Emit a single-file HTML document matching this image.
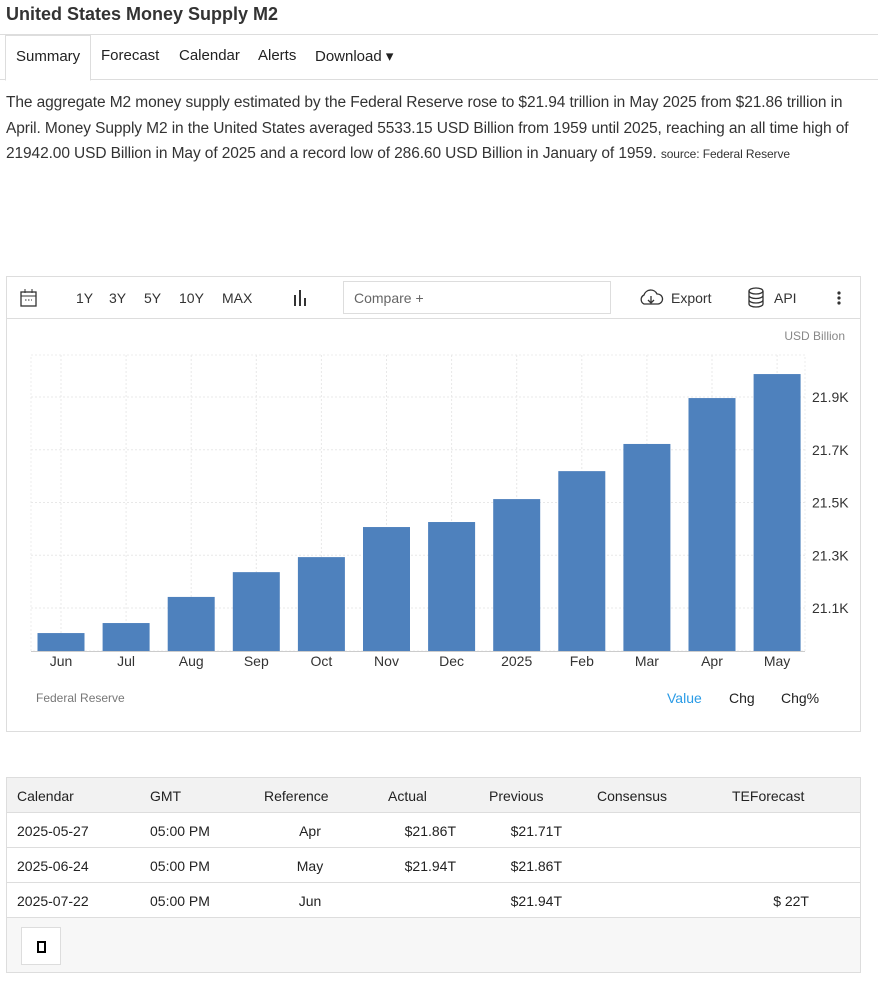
<!DOCTYPE html>
<html><head><meta charset="utf-8"><style>
body{margin:0;width:878px;height:987px;background:#fff;font-family:"Liberation Sans",sans-serif;color:#333;position:relative;overflow:hidden}
.abs{position:absolute}
h1{position:absolute;left:6px;top:4px;margin:0;font-size:18px;font-weight:bold;color:#333}
.tabs{position:absolute;left:0;top:34px;width:878px;height:44px;border-top:1px solid #ddd;border-bottom:1px solid #ddd}
.tab{position:absolute;top:12px;font-size:15px;color:#222}
p{position:absolute;left:6px;top:90px;width:872px;margin:0;font-size:15.5px;line-height:25.5px;color:#333;letter-spacing:-0.1px}
.box{position:absolute;border:1px solid #ddd}
.tb{position:absolute;top:13px;font-size:14px;color:#333}
.hd{position:absolute;top:10px;font-size:14px;color:#222}
</style></head><body>
<h1>United States Money Supply M2</h1>
<div class="tabs">
<div class="abs" style="left:5px;top:0;width:84px;height:44px;border:1px solid #ddd;border-bottom:1px solid #fff;background:#fff"><span class="tab" style="left:10px;top:12px">Summary</span></div>
<span class="tab" style="left:101px">Forecast</span>
<span class="tab" style="left:179px">Calendar</span>
<span class="tab" style="left:258px">Alerts</span>
<span class="tab" style="left:315px">Download ▾</span>
</div>
<p>The aggregate M2 money supply estimated by the Federal Reserve rose to $21.94 trillion in May 2025 from $21.86 trillion in April. Money Supply M2 in the United States averaged 5533.15 USD Billion from 1959 until 2025, reaching an all time high of 21942.00 USD Billion in May of 2025 and a record low of 286.60 USD Billion in January of 1959. <span style="font-size:12px">source: Federal Reserve</span></p>

<div class="box" style="left:6px;top:276px;width:853px;height:454px">
<div class="abs" style="left:0;top:0;width:853px;height:41px;border-bottom:1px solid #ddd">
<svg class="abs" style="left:12px;top:11px" width="20" height="20"><rect x="2" y="4" width="15" height="14" fill="none" stroke="#333" stroke-width="1.3"/><line x1="2" y1="8" x2="17" y2="8" stroke="#333"/><line x1="6" y1="1" x2="6" y2="5" stroke="#333"/><line x1="13" y1="1" x2="13" y2="5" stroke="#333"/><line x1="6" y1="12" x2="13" y2="12" stroke="#333" stroke-dasharray="1.5 1.5"/></svg>
<span class="tb" style="left:69px">1Y</span>
<span class="tb" style="left:102px">3Y</span>
<span class="tb" style="left:137px">5Y</span>
<span class="tb" style="left:172px">10Y</span>
<span class="tb" style="left:215px">MAX</span>
<svg class="abs" style="left:285px;top:12px" width="18" height="18"><rect x="2" y="6" width="2" height="11" fill="#333"/><rect x="7" y="1" width="2" height="16" fill="#333"/><rect x="12" y="9" width="2" height="8" fill="#333"/></svg>
<div class="abs" style="left:336px;top:4px;width:266px;height:31px;border:1px solid #ddd"><span class="abs" style="left:10px;top:8px;font-size:14px;color:#666">Compare +</span></div>
<svg class="abs" style="left:631px;top:11px" width="26" height="20"><path d="M6 16 A5 5 0 0 1 6 7 A7 7 0 0 1 19 6 A5 5 0 0 1 20 16 Z" fill="none" stroke="#333" stroke-width="1.3"/><line x1="13" y1="8" x2="13" y2="14" stroke="#333" stroke-width="1.3"/><path d="M10 12 L13 15 L16 12" fill="none" stroke="#333" stroke-width="1.3"/></svg>
<span class="tb" style="left:664px">Export</span>
<svg class="abs" style="left:740px;top:10px" width="20" height="22"><ellipse cx="9" cy="4" rx="7" ry="3" fill="none" stroke="#333" stroke-width="1.3"/><path d="M2 4 V17 A7 3 0 0 0 16 17 V4 M2 8.5 A7 3 0 0 0 16 8.5 M2 13 A7 3 0 0 0 16 13" fill="none" stroke="#333" stroke-width="1.3"/></svg>
<span class="tb" style="left:767px">API</span>
<svg class="abs" style="left:828px;top:13px" width="8" height="16"><circle cx="4" cy="3" r="1.6" fill="#333"/><circle cx="4" cy="8" r="1.6" fill="#333"/><circle cx="4" cy="13" r="1.6" fill="#333"/></svg>
</div>
</div>
<svg id="chart" class="abs" style="left:0;top:318px" width="878" height="400"></svg>

<div class="box" style="left:6px;top:777px;width:853px;height:194px;background:#f7f7f7">
<div class="abs" style="left:0;top:0;width:853px;height:34px;background:#f2f2f2;border-bottom:1px solid #ddd">
<span class="hd" style="left:10px">Calendar</span><span class="hd" style="left:143px">GMT</span><span class="hd" style="left:257px">Reference</span><span class="hd" style="left:381px">Actual</span><span class="hd" style="left:482px">Previous</span><span class="hd" style="left:590px">Consensus</span><span class="hd" style="left:725px">TEForecast</span>
</div>
<div id="rows"></div>
<div class="abs" style="left:14px;top:149px;width:38px;height:36px;border:1px solid #ddd;background:#fff"><div class="abs" style="left:15px;top:13px;width:5px;height:8px;border:2px solid #000"></div></div>
</div>

<script>
const months=["Jun","Jul","Aug","Sep","Oct","Nov","Dec","2025","Feb","Mar","Apr","May"];
const values=[21005,21043,21142,21236,21293,21407,21426,21513,21619,21722,21896,21987];
const tickValues=[21100,21300,21500,21700,21900];
const tickLabels=["21.1K","21.3K","21.5K","21.7K","21.9K"];
const svg=document.getElementById('chart'),NS='http://www.w3.org/2000/svg';
const yMin=20937,pxPerUnit=0.26375,baseY=333;
const y=v=>baseY-(v-yMin)*pxPerUnit;
const x0=61,step=65.1;
const xc=i=>x0+i*step;
function el(t,a,txt){const e=document.createElementNS(NS,t);for(const k in a)e.setAttribute(k,a[k]);if(txt!=null)e.textContent=txt;svg.appendChild(e);return e;}
const plotTop=37;
let f=el('rect',{x:31,y:plotTop,width:774,height:baseY-plotTop,fill:'none',stroke:'#eee','stroke-dasharray':'2 2'});


months.forEach((m,i)=>{let g=el('line',{x1:xc(i),x2:xc(i),y1:plotTop,y2:baseY,stroke:'#e8e8e8','stroke-dasharray':'2 2'});

});
tickValues.forEach((v,i)=>{let g=el('line',{x1:31,x2:805,y1:y(v),y2:y(v),stroke:'#e8e8e8','stroke-dasharray':'2 2'});


let t=el('text',{x:812,y:y(v)+5,'font-size':14,fill:'#333','font-family':'Liberation Sans'},tickLabels[i]);

});
values.forEach((v,i)=>{let b=el('rect',{x:xc(i)-23.5,y:y(v),width:47,height:baseY-y(v),fill:'#4e81bd'});


let t=el('text',{x:xc(i),y:baseY+15,'font-size':14,fill:'#333','text-anchor':'middle','font-family':'Liberation Sans'},months[i]);

});
let ax=el('line',{x1:31,x2:805,y1:baseY+.5,y2:baseY+.5,stroke:'#ccc'});


let u=el('text',{x:845,y:22,'font-size':12,fill:'#888','text-anchor':'end','font-family':'Liberation Sans'},'USD Billion');


let s=el('text',{x:36,y:384,'font-size':12,fill:'#777','font-family':'Liberation Sans'},'Federal Reserve');


[['Value',667,'#2a9be6'],['Chg',729,'#222'],['Chg%',781,'#222']].forEach(a=>{let t=el('text',{x:a[1],y:385,'font-size':14,fill:a[2],'font-family':'Liberation Sans'},a[0]);

});

const rowsData=[["2025-05-27","05:00 PM","Apr","$21.86T","$21.71T",""],["2025-06-24","05:00 PM","May","$21.94T","$21.86T",""],["2025-07-22","05:00 PM","Jun","","$21.94T","$ 22T"]];
const rc=document.getElementById('rows');
rowsData.forEach((r,i)=>{const d=document.createElement('div');


d.style.cssText='position:absolute;left:0;top:'+(35+i*35)+'px;width:853px;height:34px;background:#fff;border-bottom:1px solid #ddd;font-size:14px;color:#222';
const cells=[[10,'left',r[0]],[143,'left',r[1]],[303,'center',r[2]],[449,'right',r[3]],[555,'right',r[4]],[802,'right',r[5]]];
cells.forEach(c=>{const s=document.createElement('span');s.textContent=c[2];
s.style.cssText='position:absolute;top:10px;'+(c[1]==='left'?'left:'+c[0]+'px':c[1]==='right'?'right:'+(853-c[0])+'px':'left:'+(c[0]-30)+'px;width:60px;text-align:center');d.appendChild(s);});
rc.appendChild(d);});
</script>
</body></html>
